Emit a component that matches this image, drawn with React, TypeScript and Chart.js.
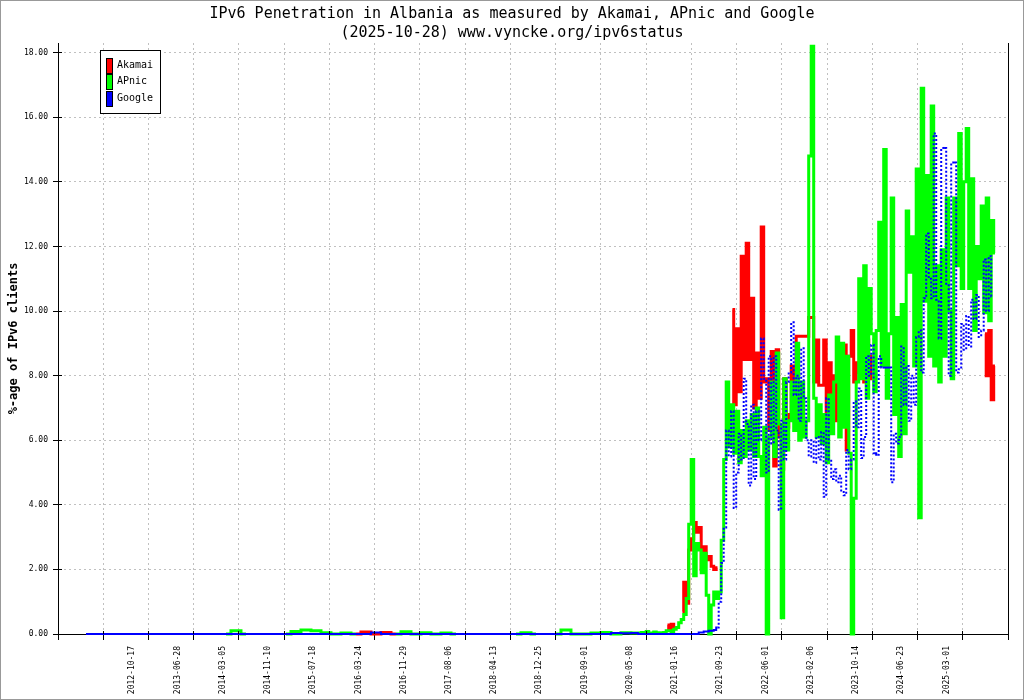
import React, { useEffect, useRef } from 'react';
import { Chart, registerables } from 'chart.js';

Chart.register(...registerables);

const chartTitle = 'IPv6 Penetration in Albania as measured by Akamai, APnic and Google';
const chartSubtitle = '(2025-10-28) www.vyncke.org/ipv6status';
const yAxisTitle = '%-age of IPv6 clients';

const seriesNames = ['Akamai', 'APnic', 'Google'];
const seriesColors = ['#ff0000', '#00ff00', '#0000ff'];

// x axis unit: days since 2011-09-09
const X_MAX_DAYS = 5263;
const TICK_COUNT = 21;
const xTickLabels = [
  '2012-10-17', '2013-06-28', '2014-03-05', '2014-11-10', '2015-07-18', '2016-03-24',
  '2016-11-29', '2017-08-06', '2018-04-13', '2018-12-25', '2019-09-01', '2020-05-08',
  '2021-01-16', '2021-09-23', '2022-06-01', '2023-02-06', '2023-10-14', '2024-06-23',
  '2025-03-01',
];
const yTickValues = [0, 2, 4, 6, 8, 10, 12, 14, 16, 18];
const Y_MAX = 18.3;

// sampling dates
const EARLY_START_DAY = 155;
const EARLY_STEP_DAYS = 55.4;
const LATE_START_DAY = 3224;
const LATE_STEP_DAYS = 13.85;

const akamaiEarly = [
  null, null, null, null, null, null, null, null, null, null,
  null, null, null, null, null, null, null, null, null, null,
  null, null, null, null, null, null, null, 0, 0.06, 0,
  0.05, 0, null, null, null, null, null, null, null, null,
  null, null, null, null, null, null, null, null, null, null,
  null, null, null, null, null, null,
];
const apnicEarly = [
  null, null, null, null, null, null, null, null, null, null,
  null, null, null, null, 0, 0.1, 0, null, null, null,
  0, 0.08, 0.12, 0.1, 0.04, 0, 0.03, 0, null, null,
  null, 0, 0.07, 0, 0.04, 0, 0.03, 0, null, null,
  null, null, null, 0, 0.04, 0, null, 0, 0.12, 0,
  0, 0.03, 0.05, 0, 0.04, 0.03,
];
const googleEarly = [
  0, 0, 0, 0, 0, 0, 0, 0, 0, 0,
  0, 0, 0, 0, 0, 0, 0, 0, 0, 0,
  0, 0, 0, 0, 0, 0, 0, 0, 0, 0.05,
  0, 0, 0, 0, 0, 0, 0, 0, 0, 0,
  0, 0, 0, 0, 0, 0, 0, 0, 0, 0,
  0, 0, 0, 0.03, 0.02, 0.03,
];

const akamaiLate = [
  null, null, null, null,
  null, null, null, null,
  null, null, null, 0.28,
  0.15, 0.3, 0.2, null,
  null, 0.7, 1.6, 0.95,
  2.6, 2.95, 3.45, 3.15,
  3.3, 2.0, 2.7, 2.3,
  2.4, 2.1, 2.0, 2.05,
  null, null, null, null,
  null, 10.05, 7.1, 9.45,
  7.5, 11.7, 8.5, 12.1,
  8.5, 10.4, 7.0, 8.7,
  7.3, 12.6, 7.8, 7.9,
  6.3, 8.75, 5.2, 8.8,
  6.1, 5.1, 7.9, 6.4,
  6.8, 8.3, 7.2, 9.22,
  9.22, 9.22, 9.22, 9.22,
  9.8, 9.8, 7.8, 9.1,
  7.7, 7.7, 9.1, 6.6,
  8.4, 7.2, 8.0, 6.6,
  7.9, 8.6, 8.95, 5.7,
  8.6, 9.4, 7.8, 8.4,
  8.1, 8.95, 7.8, 9.1,
  8.6, 7.9, null, null,
  null, null, null, null,
  null, null, null, null,
  null, null, null, null,
  null, null, null, null,
  null, null, null, null,
  null, null, null, null,
  null, null, null, null,
  null, null, null, null,
  null, null, null, null,
  null, null, null, null,
  null, null, 9.3, 8.0,
  9.4, 7.25, 8.3, null,
];
const apnicLate = [
  0.02, 0.05, 0.02, 0.08,
  0.03, 0.02, 0.06, 0.02,
  0.04, 0.02, 0.05, 0.1,
  0.1, 0.05, 0.15, 0.2,
  0.35, 0.45, 0.6, 1.1,
  3.4, 5.4, 1.8, 2.8,
  2.6, 1.9, 2.5, 1.2,
  0.0, 0.9, 1.3, 1.1,
  1.3, 2.9, 5.4, 7.8,
  5.8, 7.1, 5.6, 6.9,
  5.3, 6.3, 5.5, 6.6,
  5.7, 6.8, 5.5, 7.0,
  5.5, 4.9, 6.4, 0.0,
  6.1, 7.8, 5.5, 8.7,
  6.5, 0.5, 7.9, 5.7,
  6.6, 7.8, 6.3, 9.0,
  6.0, 7.8, 6.1, 6.6,
  14.8, 18.2, 7.3, 6.1,
  7.1, 5.9, 6.8, 5.3,
  7.4, 6.2, 7.8, 9.2,
  6.1, 9.0, 6.4, 8.6,
  5.6, 0.0, 4.2, 7.8,
  11.0, 7.9, 11.4, 7.3,
  10.7, 9.3, 7.5, 9.4,
  12.75, 8.3, 15.0, 7.3,
  9.3, 13.5, 6.8, 9.8,
  5.5, 10.2, 6.2, 13.1,
  11.2, 12.3, 8.3, 14.4,
  3.6, 16.9, 10.3, 14.2,
  8.6, 16.35, 8.3, 11.4,
  7.8, 11.9, 8.6, 13.5,
  10.0, 7.9, 13.5, 11.4,
  15.5, 10.7, 14.0, 15.65,
  10.7, 14.1, 9.4, 12.0,
  11.0, 13.25, 9.95, 13.5,
  9.7, 12.8, 11.8, null,
];
const googleLate = [
  0, 0, 0, 0,
  0, 0, 0, 0,
  0, 0, 0, 0,
  0, 0, 0, 0,
  0, 0, 0, 0,
  0, 0, 0, 0,
  0.05, 0.05, 0.08, 0.08,
  0.1, 0.1, 0.12, 0.2,
  1.0, 2.2, 3.3, 6.3,
  5.5, 6.9, 3.9, 5.0,
  6.2, 5.4, 7.9, 6.5,
  4.6, 7.1, 4.8, 6.9,
  6.0, 9.15, 7.9, 5.0,
  8.6, 5.9, 8.6, 6.3,
  3.85, 6.6, 5.4, 7.8,
  8.1, 9.65, 7.4, 8.0,
  6.6, 8.85, 7.3, 6.0,
  5.5, 6.0, 5.3, 6.1,
  5.4, 6.25, 4.25, 7.3,
  5.4, 4.8, 5.1, 4.7,
  4.9, 4.4, 4.3, 5.7,
  5.1, 5.4, 7.2, 6.4,
  7.6, 5.45, 6.1, 8.6,
  8.0, 8.95, 5.6, 5.55,
  8.6, 8.25, 8.25, 8.25,
  8.25, 4.7, 6.2, 5.9,
  6.1, 8.9, 7.1, 8.3,
  6.6, 8.0, 7.1, 9.2,
  9.4, 8.1, 10.4, 12.4,
  11.0, 10.4, 15.5, 10.35,
  9.15, 15.05, 15.05, 10.8,
  8.0, 14.6, 14.6, 8.1,
  8.2, 9.6, 8.8, 9.85,
  8.9, 10.35, 9.75, 10.5,
  9.2, 9.4, 11.6, 10.0,
  11.7, 10.45, null, null,
];

const FONT = "'DejaVu Sans Mono', monospace";
const GRID_COLOR = '#c0c0c0';
const CLEAR = 'rgba(0,0,0,0)';

function toPoints(early: (number | null)[], late: (number | null)[]) {
  const pts: { x: number; y: number | null }[] = [];
  early.forEach((v, i) => pts.push({ x: EARLY_START_DAY + i * EARLY_STEP_DAYS, y: v }));
  late.forEach((v, i) => pts.push({ x: LATE_START_DAY + i * LATE_STEP_DAYS, y: v }));
  return pts;
}

const framePlugin = {
  id: 'frame',
  beforeDraw(chart: any) {
    const { ctx, width, height } = chart;
    ctx.save();
    ctx.fillStyle = '#ffffff';
    ctx.fillRect(0, 0, width, height);
    ctx.restore();
  },
  afterDraw(chart: any) {
    const { ctx, width, height } = chart;
    ctx.save();
    ctx.strokeStyle = '#999999';
    ctx.lineWidth = 1;
    ctx.strokeRect(0.5, 0.5, width - 1, height - 1);
    ctx.restore();
  },
};

const innerTicksPlugin = {
  id: 'innerTicks',
  afterDraw(chart: any) {
    const { ctx, chartArea, scales } = chart;
    const align = (p: number) => Math.round(p - 0.5) + 0.5;
    ctx.save();
    ctx.strokeStyle = '#000';
    ctx.lineWidth = 1;
    ctx.beginPath();
    scales.y.ticks.forEach((t: any) => {
      const py = align(scales.y.getPixelForValue(t.value));
      ctx.moveTo(chartArea.left, py);
      ctx.lineTo(chartArea.left + 4, py);
    });
    scales.x.ticks.forEach((t: any) => {
      const px = align(scales.x.getPixelForValue(t.value));
      ctx.moveTo(px, chartArea.bottom);
      ctx.lineTo(px, chartArea.bottom - 3);
    });
    ctx.stroke();
    ctx.restore();
  },
};

const boxLegendPlugin = {
  id: 'boxLegend',
  afterDraw(chart: any) {
    const { ctx } = chart;
    const datasets = chart.data.datasets;
    ctx.save();
    ctx.fillStyle = '#ffffff';
    ctx.fillRect(100.5, 50.5, 60, 63);
    ctx.strokeStyle = '#000';
    ctx.lineWidth = 1;
    ctx.strokeRect(100.5, 50.5, 60, 63);
    ctx.font = `10px ${FONT}`;
    ctx.textBaseline = 'middle';
    ctx.textAlign = 'left';
    datasets.forEach((ds: any, i: number) => {
      const cy = 65 + i * 16.8;
      ctx.fillStyle = ds.borderColor;
      ctx.fillRect(106.5, Math.round(cy - 7.5) + 0.5, 6, 15);
      ctx.strokeStyle = '#000';
      ctx.strokeRect(106.5, Math.round(cy - 7.5) + 0.5, 6, 15);
      ctx.fillStyle = '#000';
      ctx.fillText(ds.label, 117, cy);
    });
    ctx.restore();
  },
};

export default function App() {
  const ref = useRef<HTMLCanvasElement>(null);

  useEffect(() => {
    const canvas = ref.current;
    if (!canvas) return;
    const common = {
      pointRadius: 0, pointHoverRadius: 0, tension: 0, fill: false, stepped: 'middle',
      borderJoinStyle: 'miter', clip: 3, xAxisID: 'x', yAxisID: 'y',
    };
    const chart = new Chart(canvas, {
      type: 'line',
      data: {
        datasets: [
          { ...common, label: seriesNames[0], data: toPoints(akamaiEarly, akamaiLate), borderColor: seriesColors[0], backgroundColor: seriesColors[0], borderWidth: 3, order: 3 },
          { ...common, label: seriesNames[1], data: toPoints(apnicEarly, apnicLate), borderColor: seriesColors[1], backgroundColor: seriesColors[1], borderWidth: 3, order: 2 },
          {
            ...common, label: seriesNames[2], data: toPoints(googleEarly, googleLate), borderColor: seriesColors[2], backgroundColor: seriesColors[2], borderWidth: 2, order: 1,
            segment: { borderDash: (c: any) => (Math.abs(c.p1.y - c.p0.y) > 3 ? [2, 2] : undefined) },
          },
        ],
      } as any,
      options: {
        animation: false,
        responsive: false,
        events: [],
        layout: { padding: 0 },
        scales: {
          x: {
            type: 'linear',
            min: 0,
            max: X_MAX_DAYS,
            afterBuildTicks: (s: any) => {
              s.ticks = Array.from({ length: TICK_COUNT + 1 }, (_, k) => ({ value: (k * X_MAX_DAYS) / TICK_COUNT }));
            },
            afterFit: (s: any) => { s.height = 66; },
            grid: {
              color: (c: any) => (c.index === 0 || c.index === TICK_COUNT ? CLEAR : GRID_COLOR),
              tickColor: '#000',
              tickLength: 6,
            },
            border: { display: true, color: '#000', width: 1, dash: [2, 3] },
            ticks: {
              autoSkip: false,
              maxRotation: 90,
              minRotation: 90,
              padding: 6,
              labelOffset: 29,
              color: '#000',
              font: { family: FONT, size: 8 },
              callback: (_v: any, i: number) => xTickLabels[i - 1] ?? '',
            },
          },
          y: {
            type: 'linear',
            position: 'left',
            min: 0,
            max: Y_MAX,
            afterBuildTicks: (s: any) => { s.ticks = yTickValues.map((v) => ({ value: v })); },
            afterFit: (s: any) => { s.width = 58; },
            grid: {
              color: (c: any) => (c.index === 0 ? CLEAR : GRID_COLOR),
              tickColor: '#000',
              tickLength: 5,
            },
            border: { display: true, color: '#000', width: 1, dash: [2, 3] },
            ticks: {
              padding: 5,
              color: '#000',
              font: { family: FONT, size: 8 },
              callback: (v: any) => Number(v).toFixed(2),
            },
            title: {
              display: true,
              text: yAxisTitle,
              color: '#000',
              font: { family: FONT, size: 12, weight: 'bold' },
              padding: { top: 7, bottom: 0 },
            },
          },
          yRight: {
            type: 'linear',
            position: 'right',
            min: 0,
            max: Y_MAX,
            afterFit: (s: any) => { s.width = 16; },
            grid: { display: false, drawTicks: false },
            ticks: { display: false },
            border: { display: true, color: '#000', width: 1 },
          },
        },
        plugins: {
          legend: { display: false },
          tooltip: { enabled: false },
          title: {
            display: true,
            text: chartTitle,
            color: '#000',
            font: { family: FONT, size: 15, weight: 'normal' },
            padding: { top: 5, bottom: 1 },
          },
          subtitle: {
            display: true,
            text: chartSubtitle,
            color: '#000',
            font: { family: FONT, size: 15, weight: 'normal' },
            padding: { top: 0, bottom: 1 },
          },
        },
      } as any,
      plugins: [framePlugin, innerTicksPlugin, boxLegendPlugin],
    });
    return () => chart.destroy();
  }, []);

  return (
    <div style={{ position: 'absolute', left: 0, top: 0, width: 1024, height: 700 }}>
      <canvas ref={ref} width={1024} height={700} style={{ display: 'block' }} />
    </div>
  );
}
